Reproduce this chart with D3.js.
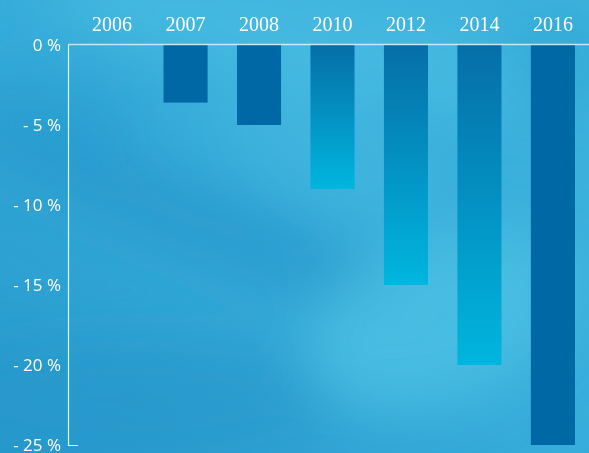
<!DOCTYPE html>
<html>
<head>
<meta charset="utf-8">
<script src="https://cdn.jsdelivr.net/npm/d3@7"></script>
<style>
  html, body { margin: 0; padding: 0; background: #33a9d8; }
  svg { display: block; }
</style>
</head>
<body>
<svg id="chart" width="589" height="453"></svg>
<script>
// Change in value by year (percent)
const years = ["2006", "2007", "2008", "2010", "2012", "2014", "2016"];
const changes = [0, -3.6, -5, -9, -15, -20, -25];
const yTicks = [0, -5, -10, -15, -20, -25];

const W = 589, H = 453;
const svg = d3.select("#chart");
const defs = svg.append("defs");

// ---- cloudy blue backdrop ----
const bg = defs.append("linearGradient").attr("id", "bg")
  .attr("x1", "1").attr("y1", "0").attr("x2", "0").attr("y2", "1");
bg.append("stop").attr("offset", "0").attr("stop-color", "#3fb4de");
bg.append("stop").attr("offset", "0.55").attr("stop-color", "#36acda");
bg.append("stop").attr("offset", "1").attr("stop-color", "#2698cb");

defs.append("filter").attr("id", "soft")
  .attr("x", "-50%").attr("y", "-50%").attr("width", "200%").attr("height", "200%")
  .append("feGaussianBlur").attr("stdDeviation", 28);

svg.append("rect").attr("width", W).attr("height", H).attr("fill", "url(#bg)");

const clouds = svg.append("g").attr("filter", "url(#soft)");
const blobs = [
  { cx: 300, cy: 40, rx: 260, ry: 45, rot: 12, c: "#47bbe1", o: 0.8 },
  { cx: 170, cy: 210, rx: 260, ry: 38, rot: 22, c: "#2594c7", o: 0.65 },
  { cx: 60, cy: 110, rx: 90, ry: 40, rot: 15, c: "#2a9ccf", o: 0.6 },
  { cx: 440, cy: 320, rx: 140, ry: 80, rot: -20, c: "#4cc0e4", o: 0.8 },
  { cx: 330, cy: 150, rx: 120, ry: 50, rot: 25, c: "#44b8e0", o: 0.6 },
  { cx: 130, cy: 400, rx: 200, ry: 60, rot: 0, c: "#2596c9", o: 0.6 },
  { cx: 560, cy: 60, rx: 60, ry: 60, rot: 0, c: "#2ea6d6", o: 0.6 }
];
clouds.selectAll("ellipse").data(blobs).join("ellipse")
  .attr("cx", d => d.cx).attr("cy", d => d.cy)
  .attr("rx", d => d.rx).attr("ry", d => d.ry)
  .attr("transform", d => `rotate(${d.rot},${d.cx},${d.cy})`)
  .attr("fill", d => d.c).attr("opacity", d => d.o);

// ---- scales ----
const x = d3.scaleBand().domain(years).range([68, 597])
  .paddingInner(0.4).paddingOuter(0.3);
const y = d3.scaleLinear().domain([0, -25]).range([45, 445]);

// vertical fade used on the middle bars
const fade = defs.append("linearGradient").attr("id", "fade")
  .attr("x1", "0").attr("y1", "0").attr("x2", "0").attr("y2", "1");
fade.append("stop").attr("offset", "0").attr("stop-color", "#066ea8");
fade.append("stop").attr("offset", "1").attr("stop-color", "#00b6de");

const fadedYears = new Set(["2010", "2012", "2014"]);
const data = years.map((yr, i) => ({ year: yr, value: changes[i] }));

svg.append("g").selectAll("rect").data(data.filter(d => d.value !== 0)).join("rect")
  .attr("x", d => x(d.year))
  .attr("y", y(0))
  .attr("width", x.bandwidth())
  .attr("height", d => y(d.value) - y(0))
  .attr("fill", d => fadedYears.has(d.year) ? "url(#fade)" : "#0068a5");

// ---- axes ----
const axisColor = "rgba(255,255,255,0.85)";
svg.append("line")
  .attr("x1", 68).attr("x2", W).attr("y1", y(0) - 0.5).attr("y2", y(0) - 0.5)
  .attr("stroke", "rgba(255,255,255,0.7)").attr("stroke-width", 1.5);
svg.append("path")
  .attr("d", `M68.5,${y(0)}V${y(-25) + 0.5}H78`)
  .attr("fill", "none").attr("stroke", axisColor).attr("stroke-width", 1.2);

svg.append("g").selectAll("text").data(yTicks).join("text")
  .attr("x", 61).attr("y", d => y(d) + 6)
  .attr("text-anchor", "end")
  .attr("fill", "#ffffff")
  .attr("font-family", "'Open Sans', sans-serif")
  .attr("font-size", 17)
  .text(d => d === 0 ? "0 %" : `- ${Math.abs(d)} %`);

svg.append("g").selectAll("text").data(years).join("text")
  .attr("x", d => x(d) + x.bandwidth() / 2)
  .attr("y", 31)
  .attr("text-anchor", "middle")
  .attr("fill", "#ffffff")
  .attr("font-family", "'Liberation Serif', 'Times New Roman', serif")
  .attr("font-size", 20)
  .text(d => d);
</script>
</body>
</html>
